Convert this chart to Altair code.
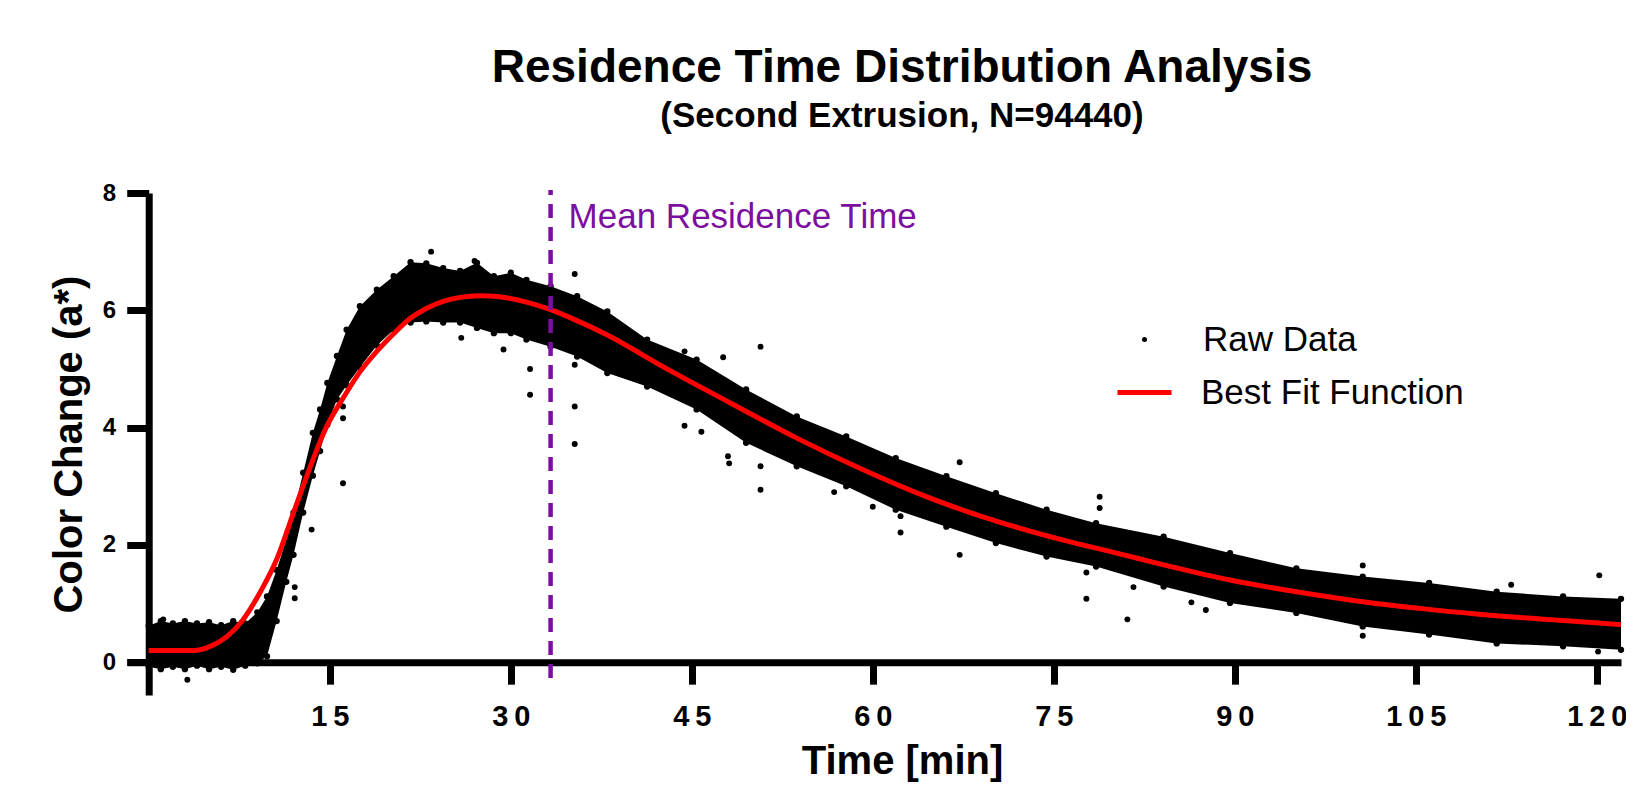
import altair as alt
import pandas as pd

# ---------------- text ----------------
TITLE = "Residence Time Distribution Analysis"
SUBTITLE = "(Second Extrusion, N=94440)"
X_TITLE = "Time [min]"
Y_TITLE = "Color Change (a*)"
RAW_LABEL = "Raw Data"
FIT_LABEL = "Best Fit Function"
MEAN_LABEL = "Mean Residence Time"

# ---------------- axes ----------------
X_TICKS = [15, 30, 45, 60, 75, 90, 105, 120]
Y_TICKS = [0, 2, 4, 6, 8]
X_DOMAIN = [-1.8, 122.0]
Y_DOMAIN = [-0.56, 8.0]

# ---------------- raw-data band (upper / lower envelope of the dense scatter) ----------------
BAND_T = [0, 1, 2, 3, 4, 5, 6, 7, 8, 9, 9.8, 10.6, 11.4, 12.0, 12.8, 13.6, 14.2, 14.8,
          15.6, 16.4, 17.5, 18.9, 20.3, 21.7, 23.0, 24.4, 25.8, 27.2, 28.6, 30.0, 31.3,
          33.3, 35.5, 38.0, 41.3, 45.4, 49.5, 53.7, 57.8, 61.9, 66.1, 70.2, 74.4, 78.5,
          84.1, 89.6, 95.1, 100.6, 106.1, 111.7, 117.2, 122.0]
BAND_HI = [0.62, 0.70, 0.66, 0.70, 0.66, 0.68, 0.63, 0.70, 0.66, 0.85, 1.12, 1.57, 2.09,
           2.55, 3.23, 3.91, 4.31, 4.76, 5.22, 5.67, 6.07, 6.35, 6.58, 6.82, 6.80, 6.72,
           6.67, 6.81, 6.58, 6.64, 6.52, 6.41, 6.24, 5.98, 5.50, 5.16, 4.65, 4.19, 3.85,
           3.48, 3.17, 2.88, 2.60, 2.37, 2.14, 1.86, 1.60, 1.46, 1.35, 1.20, 1.12, 1.08]
BAND_LO = [-0.08, -0.12, -0.08, -0.12, -0.06, -0.12, -0.08, -0.13, -0.06, -0.02, 0.10,
           0.70, 1.37, 1.83, 2.55, 3.18, 3.60, 4.05, 4.48, 4.72, 5.03, 5.40, 5.67, 5.79,
           5.81, 5.79, 5.79, 5.70, 5.61, 5.61, 5.50, 5.38, 5.21, 4.93, 4.70, 4.31, 3.74,
           3.34, 3.00, 2.60, 2.31, 2.03, 1.80, 1.63, 1.29, 1.01, 0.84, 0.61, 0.47, 0.32,
           0.27, 0.21]

# ---------------- isolated raw-data points ----------------
OUT_T = [1.2, 3.2, 12.1, 12.1, 13.5, 16.1, 16.1, 16.1, 23.4, 27.0, 25.9, 29.4, 31.6,
         31.6, 35.3, 35.3, 35.3, 35.3, 44.4, 47.6, 50.7, 44.4, 45.8, 48.0, 48.1, 50.7,
         50.7, 56.8, 60.0, 62.3, 62.3, 67.2, 67.2, 77.7, 77.7, 78.8, 78.8, 81.1, 81.6,
         86.4, 87.6, 100.6, 100.6, 112.9, 120.2, 120.1]
OUT_Y = [0.73, -0.30, 1.28, 1.09, 2.26, 3.05, 4.16, 4.36, 7.00, 6.84, 5.53, 5.33, 5.00,
         4.56, 6.62, 5.07, 4.36, 3.72, 5.30, 5.20, 5.38, 4.03, 3.93, 3.51, 3.39, 3.34,
         2.94, 2.90, 2.65, 2.49, 2.21, 3.41, 1.83, 1.53, 1.08, 2.82, 2.63, 0.73, 1.28,
         1.02, 0.89, 1.65, 0.45, 1.32, 1.48, 0.18]

# ---------------- best fit function ----------------
FIT_T = [0, 2, 3.7, 5.1, 6.5, 7.8, 9.2, 10.6, 12.0, 13.4, 14.7, 16.1, 17.5, 18.9, 20.3,
         21.6, 23.0, 24.4, 25.8, 27.4, 29.1, 31.3, 33.3, 35.2, 38.0, 42.6, 48.2, 53.7,
         59.2, 64.7, 70.3, 75.8, 80.2, 84.1, 89.6, 95.1, 100.6, 106.1, 111.7, 117.2, 122.0]
FIT_Y = [0.20, 0.20, 0.20, 0.27, 0.44, 0.72, 1.18, 1.75, 2.55, 3.34, 4.00, 4.50, 4.95,
         5.30, 5.60, 5.85, 6.03, 6.15, 6.22, 6.25, 6.23, 6.14, 6.01, 5.85, 5.58, 5.04,
         4.42, 3.82, 3.28, 2.80, 2.40, 2.08, 1.86, 1.66, 1.40, 1.20, 1.03, 0.90, 0.79,
         0.71, 0.64]

# ---------------- mean residence time ----------------
MEAN_T = 33.3
MEAN_LINE_Y = [-0.27, 8.05]
MEAN_LABEL_Y = 7.41

# ---------------- styling / layout ----------------
FONT = "Liberation Sans, Arial, Helvetica, sans-serif"
PURPLE = "#7D0FA0"
RED = "#FF0000"
WIDTH = 1494
HEIGHT = 502
PAD = {"left": 119, "top": 185, "right": 5, "bottom": 88}
X_AXIS_OFFSET = -(0 - Y_DOMAIN[0]) / (Y_DOMAIN[1] - Y_DOMAIN[0]) * HEIGHT
Y_AXIS_OFFSET = -(0 - X_DOMAIN[0]) / (X_DOMAIN[1] - X_DOMAIN[0]) * WIDTH

band_df = pd.DataFrame({"t": BAND_T, "v": BAND_HI, "v2": BAND_LO})
edge_df = pd.DataFrame({"t": BAND_T + BAND_T, "v": BAND_HI + BAND_LO})
out_df = pd.DataFrame({"t": OUT_T, "v": OUT_Y, "series": [RAW_LABEL] * len(OUT_T)})
fit_df = pd.DataFrame({"t": FIT_T, "v": FIT_Y, "fit": [FIT_LABEL] * len(FIT_T)})
rule_df = pd.DataFrame({"t": [MEAN_T], "v": [MEAN_LINE_Y[0]], "v2": [MEAN_LINE_Y[1]]})
text_df = pd.DataFrame({"t": [MEAN_T], "v": [MEAN_LABEL_Y], "label": [MEAN_LABEL]})

xscale = alt.Scale(domain=X_DOMAIN, nice=False, zero=False)
yscale = alt.Scale(domain=Y_DOMAIN, nice=False, zero=False)

x_axis = alt.Axis(
    values=X_TICKS, title=X_TITLE, offset=X_AXIS_OFFSET, grid=False,
    domainColor="black", domainWidth=7, tickColor="black", tickWidth=7, tickSize=22,
    labelFont=FONT, labelFontSize=29, labelFontWeight="bold", labelColor="black",
    labelPadding=18, labelOverlap=False, labelFlush=False,
    labelExpr="join(split(datum.label, ''), '\u2009')",
    titleFont=FONT, titleFontSize=40, titleFontWeight="bold", titleColor="black",
    titleBaseline="alphabetic", titleX=775, titleY=111,
)
y_axis = alt.Axis(
    values=Y_TICKS, title=Y_TITLE, offset=Y_AXIS_OFFSET, grid=False,
    domainColor="black", domainWidth=7, tickColor="black", tickWidth=7, tickSize=22,
    labelFont=FONT, labelFontSize=24, labelFontWeight="bold", labelColor="black",
    labelPadding=11, labelOverlap=False, labelFlush=False,
    titleFont=FONT, titleFontSize=40, titleFontWeight="bold", titleColor="black",
    titlePadding=13,
)

band = alt.Chart(band_df).mark_area(color="black", opacity=1).encode(y2="v2:Q")

edges = alt.Chart(edge_df).mark_circle(size=40, opacity=1, color="black")

raw = alt.Chart(out_df).mark_circle(size=35, opacity=1).encode(
    fill=alt.Fill(
        "series:N",
        scale=alt.Scale(domain=[RAW_LABEL], range=["black"]),
        legend=alt.Legend(
            orient="none", legendX=1000, legendY=129, title=None, padding=0,
            symbolType="circle", symbolSize=25, symbolFillColor="black",
            symbolStrokeWidth=0, labelFont=FONT, labelFontSize=35, labelColor="black",
            labelOffset=41, labelLimit=500,
        ),
    ),
)

fit = alt.Chart(fit_df).mark_line(strokeWidth=5, interpolate="monotone").encode(
    stroke=alt.Stroke(
        "fit:N",
        scale=alt.Scale(domain=[FIT_LABEL], range=[RED]),
        legend=alt.Legend(
            orient="none", legendX=988, legendY=170, title=None, padding=0,
            symbolType="stroke", symbolSize=2916, symbolStrokeWidth=5,
            labelFont=FONT, labelFontSize=35, labelColor="black", labelOffset=27,
            labelLimit=500,
        ),
    ),
)

mean_rule = alt.Chart(rule_df).mark_rule(
    color=PURPLE, strokeWidth=4.5, strokeDash=[14, 9]
).encode(y2="v2:Q")

mean_text = alt.Chart(text_df).mark_text(
    align="left", baseline="alphabetic", dx=18, font=FONT, fontSize=35, color=PURPLE
).encode(text="label:N")

chart = alt.layer(band, edges, raw, fit, mean_rule, mean_text).encode(
    x=alt.X("t:Q", scale=xscale, axis=x_axis),
    y=alt.Y("v:Q", scale=yscale, axis=y_axis),
).resolve_scale(
    fill="independent", stroke="independent"
).properties(
    width=WIDTH,
    height=HEIGHT,
    padding=PAD,
    autosize=alt.AutoSizeParams(type="none"),
    title=alt.TitleParams(
        text=TITLE, subtitle=SUBTITLE, anchor="middle", dx=28, offset=46,
        font=FONT, fontSize=46, fontWeight="bold", color="black",
        subtitleFont=FONT, subtitleFontSize=35, subtitleFontWeight="bold",
        subtitleColor="black", subtitlePadding=7,
    ),
).configure(background="white").configure_view(stroke="transparent", strokeWidth=0)

chart.save("out.html", embed_options={"renderer": "svg", "actions": False})
